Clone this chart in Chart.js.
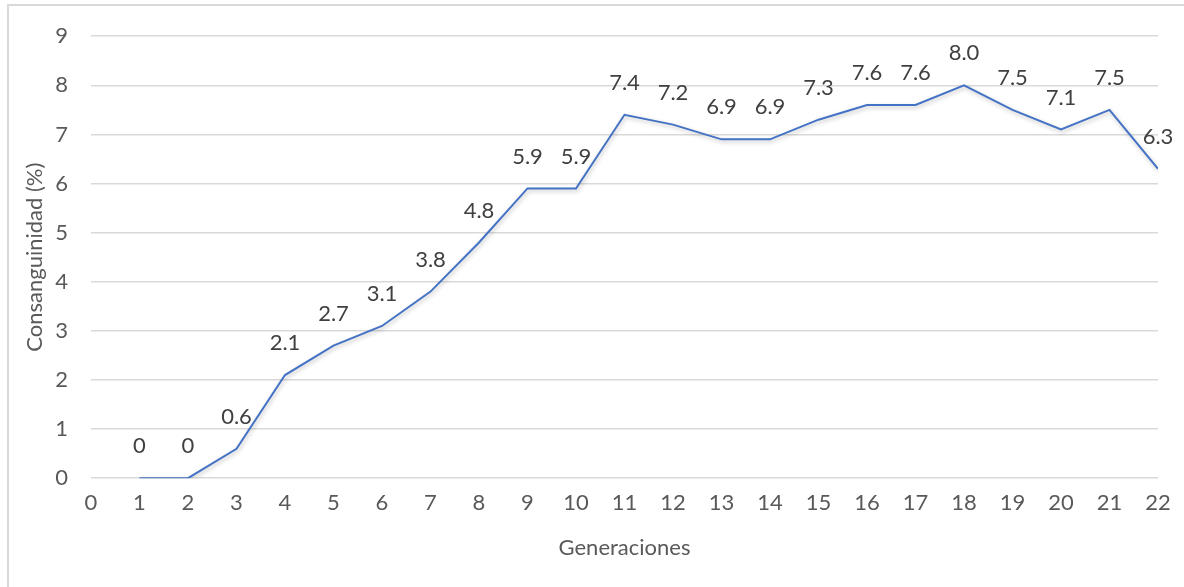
<!DOCTYPE html>
<html>
<head>
<meta charset="utf-8">
<script src="https://cdn.jsdelivr.net/npm/chart.js@4/dist/chart.umd.min.js"></script>
<style>
  html, body { margin: 0; padding: 0; background: #fff; }
  #frame { position: absolute; left: 7px; top: 4px; width: 1200px; height: 600px;
           border-left: 2px solid #d9d9d9; border-top: 2px solid #d9d9d9; }
  #wrap { position: absolute; left: 0; top: 0; width: 1184px; height: 587px; }
</style>
</head>
<body>
<div id="frame"></div>
<div id="wrap"><canvas id="myChart"></canvas></div>
<script>
const generations = [1, 2, 3, 4, 5, 6, 7, 8, 9, 10, 11, 12, 13, 14, 15, 16, 17, 18, 19, 20, 21, 22];
const inbreeding = [0, 0, 0.6, 2.1, 2.7, 3.1, 3.8, 4.8, 5.9, 5.9, 7.4, 7.2, 6.9, 6.9, 7.3, 7.6, 7.6, 8.0, 7.5, 7.1, 7.5, 6.3];
const xTicks = [0, 22];
const yTicks = [0, 9];

const textColor = '#595959';
const fontFamily = "Lato, 'Open Sans', sans-serif";
const fontSize = 22;

// line shadow like the office chart
const shadowPlugin = {
    id: 'lineShadow',
    beforeDatasetDraw(chart) {
        const c = chart.ctx;
        c.save();
        c.shadowColor = 'rgba(0,0,0,0.25)';
        c.shadowBlur = 4;
        c.shadowOffsetX = 1;
        c.shadowOffsetY = 2;
    },
    afterDatasetDraw(chart) {
        chart.ctx.restore();
    },
};

// value labels above each point
const labelPlugin = {
    id: 'valueLabels',
    afterDatasetsDraw(chart) {
        const c = chart.ctx;
        const meta = chart.getDatasetMeta(0);
        c.save();
        c.fillStyle = '#404040';
        c.font = fontSize + 'px ' + fontFamily;
        c.textAlign = 'center';
        c.textBaseline = 'middle';
        meta.data.forEach((pt, i) => {
            const v = inbreeding[i];
            const txt = v === 0 ? '0' : v.toFixed(1);
            c.fillText(txt, pt.x, pt.y - 32);
        });
        c.restore();
    },
};

const data = {
    datasets: [{
        label: 'Consanguinidad',
        data: generations.map((g, i) => ({ x: g, y: inbreeding[i] })),
        borderColor: '#4472C4',
        borderWidth: 2,
        pointRadius: 0,
        tension: 0,
        fill: false,
    }],
};

const config = {
    type: 'line',
    data: data,
    options: {
        responsive: false,
        animation: false,
        layout: { padding: { left: 22, right: 26, top: 21, bottom: 26 } },
        plugins: {
            legend: { display: false },
            tooltip: { enabled: false },
        },
        scales: {
            x: {
                type: 'linear',
                min: xTicks[0],
                max: xTicks[1],
                ticks: { stepSize: 1, color: textColor, font: { family: fontFamily, size: fontSize }, padding: 4 },
                grid: { display: false },
                border: { display: false },
                title: { display: true, text: 'Generaciones', color: textColor, font: { family: fontFamily, size: fontSize }, padding: { top: 14, bottom: 0 } },
            },
            y: {
                min: yTicks[0],
                max: yTicks[1],
                afterFit(scale) { scale.width = 69; },
                ticks: { stepSize: 1, color: textColor, font: { family: fontFamily, size: fontSize }, padding: 23 },
                grid: { color: '#d9d9d9', lineWidth: 1.5, drawTicks: false },
                border: { display: false },
                title: { display: true, text: 'Consanguinidad (%)', color: textColor, font: { family: fontFamily, size: fontSize }, padding: { top: 0, bottom: 0 } },
            },
        },
    },
    plugins: [shadowPlugin, labelPlugin],
};

const canvas = document.getElementById('myChart');
canvas.width = 1184;
canvas.height = 587;
const ctx = canvas.getContext('2d');
const myChart = new Chart(ctx, config);
</script>
</body>
</html>
